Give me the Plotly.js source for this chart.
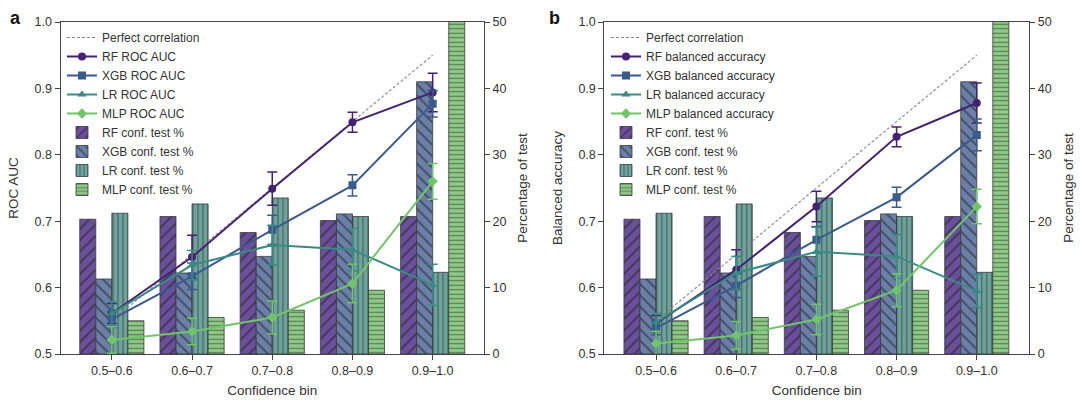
<!DOCTYPE html>
<html>
<head>
<meta charset="utf-8">
<script src="https://cdn.plot.ly/plotly-3.0.1.min.js"></script>
<style>
	body { margin: 0; background: #fff; }
	#chart { width: 1080px; height: 405px; }
</style>
</head>
<body>
<div id="chart"></div>
<script>
// Confidence bins on the x axis
var bins = ['0.5–0.6', '0.6–0.7', '0.7–0.8', '0.8–0.9', '0.9–1.0'];
var perfect = [0.55, 0.65, 0.75, 0.85, 0.95];

// Percentage of test set per bin (same in both panels)
var rfPct = [20.3, 20.7, 18.3, 20.1, 20.7];
var xgbPct = [11.3, 12.2, 14.7, 21.1, 41.0];
var lrPct = [21.2, 22.6, 23.5, 20.7, 12.3];
var mlpPct = [5.0, 5.5, 6.6, 9.6, 52.0];

// Panel a: ROC AUC
var rfAuc = [0.561, 0.646, 0.749, 0.849, 0.894];
var rfAucErr = [0.015, 0.033, 0.025, 0.015, 0.029];
var xgbAuc = [0.552, 0.617, 0.687, 0.754, 0.877];
var xgbAucErr = [0.012, 0.020, 0.022, 0.016, 0.020];
var lrAuc = [0.561, 0.634, 0.664, 0.657, 0.604];
var lrAucErr = [0.018, 0.022, 0.030, 0.032, 0.031];
var mlpAuc = [0.521, 0.534, 0.555, 0.606, 0.760];
var mlpAucErr = [0.020, 0.020, 0.025, 0.029, 0.027];

// Panel b: balanced accuracy
var rfBa = [0.546, 0.627, 0.722, 0.827, 0.878];
var rfBaErr = [0.012, 0.030, 0.023, 0.015, 0.030];
var xgbBa = [0.539, 0.603, 0.672, 0.736, 0.830];
var xgbBaErr = [0.010, 0.018, 0.020, 0.015, 0.024];
var lrBa = [0.548, 0.622, 0.654, 0.647, 0.595];
var lrBaErr = [0.013, 0.025, 0.037, 0.033, 0.025];
var mlpBa = [0.516, 0.528, 0.552, 0.596, 0.722];
var mlpBaErr = [0.018, 0.021, 0.023, 0.025, 0.026];

var models = ['RF', 'XGB', 'LR', 'MLP'];
var lineColors = ['#432371', '#3b5b8f', '#3a8a84', '#72c46a'];
var barColors = ['#6a509a', '#6a80a8', '#6ea49e', '#8ecb86'];
var symbols = ['circle', 'square', 'triangle-up', 'diamond'];
var hatch = ['/', '\\', '|', '-'];
var hatchSize = [8, 8, 5, 4.5];

function barTrace(i, vals, xa, ya, leg) {
	return {
		type: 'bar',
		x: bins,
		y: vals,
		name: models[i] + ' conf. test %',
		xaxis: xa,
		yaxis: ya,
		legend: leg,
		legendrank: 6 + i,
		marker: {
			color: barColors[i],
			line: { color: '#3a3a3a', width: 0.8 },
			pattern: {
				shape: hatch[i],
				fillmode: 'overlay',
				bgcolor: barColors[i],
				fgcolor: '#1e1e1e',
				size: hatchSize[i],
				solidity: 0.25
			}
		}
	};
}

function lineTrace(i, vals, errs, label, xa, ya, leg) {
	return {
		type: 'scatter',
		mode: 'lines+markers',
		x: bins,
		y: vals,
		name: models[i] + ' ' + label,
		xaxis: xa,
		yaxis: ya,
		legend: leg,
		legendrank: 2 + i,
		line: { color: lineColors[i], width: 2 },
		marker: { color: lineColors[i], symbol: symbols[i], size: 8 },
		error_y: {
			type: 'data',
			array: errs,
			color: lineColors[i],
			thickness: 1.5,
			width: 5
		}
	};
}

function perfectTrace(xa, ya, leg) {
	return {
		type: 'scatter',
		mode: 'lines',
		x: bins,
		y: perfect,
		name: 'Perfect correlation',
		xaxis: xa,
		yaxis: ya,
		legend: leg,
		legendrank: 1,
		line: { color: '#8a8a8a', width: 1.1, dash: '3px,2px' }
	};
}

var pcts = [rfPct, xgbPct, lrPct, mlpPct];
var aucs = [rfAuc, xgbAuc, lrAuc, mlpAuc];
var aucErrs = [rfAucErr, xgbAucErr, lrAucErr, mlpAucErr];
var bas = [rfBa, xgbBa, lrBa, mlpBa];
var baErrs = [rfBaErr, xgbBaErr, lrBaErr, mlpBaErr];

var data = [];
// bars first so they sit underneath the lines
for (var i = 0; i < 4; i++) data.push(barTrace(i, pcts[i], 'x', 'y', 'legend'));
for (var i = 0; i < 4; i++) data.push(barTrace(i, pcts[i], 'x2', 'y3', 'legend2'));
data.push(perfectTrace('x', 'y2', 'legend'));
data.push(perfectTrace('x2', 'y4', 'legend2'));
for (var i = 0; i < 4; i++) data.push(lineTrace(i, aucs[i], aucErrs[i], 'ROC AUC', 'x', 'y2', 'legend'));
for (var i = 0; i < 4; i++) data.push(lineTrace(i, bas[i], baErrs[i], 'balanced accuracy', 'x2', 'y4', 'legend2'));

var W = 1080, H = 405;
var axisColor = '#444';
var tickFont = { size: 12.5, color: '#333' };
var titleFont = { size: 13.5, color: '#333' };

function xAxis(domain, range, anchor) {
	return {
		domain: domain,
		anchor: anchor,
		type: 'category',
		range: range,
		showline: true,
		mirror: true,
		linecolor: axisColor,
		linewidth: 1,
		showgrid: false,
		zeroline: false,
		ticks: 'outside',
		ticklen: 5,
		tickcolor: axisColor,
		tickfont: tickFont,
		title: { text: 'Confidence bin', font: titleFont, standoff: 8 }
	};
}

function pctAxis(anchor) {
	return {
		anchor: anchor,
		domain: [1 - 354 / H, 1 - 22 / H],
		side: 'right',
		range: [0, 50],
		dtick: 10,
		showline: true,
		linecolor: axisColor,
		showgrid: false,
		zeroline: false,
		ticks: 'outside',
		ticklen: 5,
		tickcolor: axisColor,
		tickfont: tickFont,
		title: { text: 'Percentage of test', font: titleFont, standoff: 12 }
	};
}

function scoreAxis(anchor, over, title) {
	return {
		anchor: anchor,
		overlaying: over,
		side: 'left',
		range: [0.5, 1.0],
		dtick: 0.1,
		tickformat: '.1f',
		showline: true,
		linecolor: axisColor,
		showgrid: false,
		zeroline: false,
		ticks: 'outside',
		ticklen: 5,
		tickcolor: axisColor,
		tickfont: tickFont,
		title: { text: title, font: titleFont, standoff: 12 }
	};
}

function legendBox(x) {
	return {
		x: x,
		y: 1 - 23 / H,
		xanchor: 'left',
		yanchor: 'top',
		bgcolor: 'rgba(255,255,255,0)',
		borderwidth: 0,
		itemwidth: 30,
		font: { size: 12, color: '#333' }
	};
}

var layout = {
	width: W,
	height: H,
	margin: { l: 0, r: 0, t: 0, b: 0 },
	paper_bgcolor: '#fff',
	plot_bgcolor: 'rgba(0,0,0,0)',
	font: { family: 'Liberation Sans, Arial, sans-serif', size: 12, color: '#333' },
	barmode: 'group',
	bargap: 0.2,
	bargroupgap: 0,
	hovermode: false,
	showlegend: true,
	xaxis: xAxis([60.5 / W, 484 / W], [-0.64, 4.64], 'y'),
	yaxis: pctAxis('x'),
	yaxis2: scoreAxis('x', 'y', 'ROC AUC'),
	xaxis2: xAxis([604.3 / W, 1029.3 / W], [-0.645, 4.655], 'y3'),
	yaxis3: pctAxis('x2'),
	yaxis4: scoreAxis('x2', 'y3', 'Balanced accuracy'),
	legend: legendBox(62 / W),
	legend2: legendBox(606 / W),
	annotations: [
		{ text: '<b>a</b>', xref: 'paper', yref: 'paper', x: 8 / W, y: 1 - 6 / H, xanchor: 'left', yanchor: 'top', showarrow: false, font: { size: 18, color: '#111' } },
		{ text: '<b>b</b>', xref: 'paper', yref: 'paper', x: 547 / W, y: 1 - 6 / H, xanchor: 'left', yanchor: 'top', showarrow: false, font: { size: 18, color: '#111' } }
	]
};

Plotly.newPlot('chart', data, layout, { staticPlot: true, displayModeBar: false });
</script>
</body>
</html>
